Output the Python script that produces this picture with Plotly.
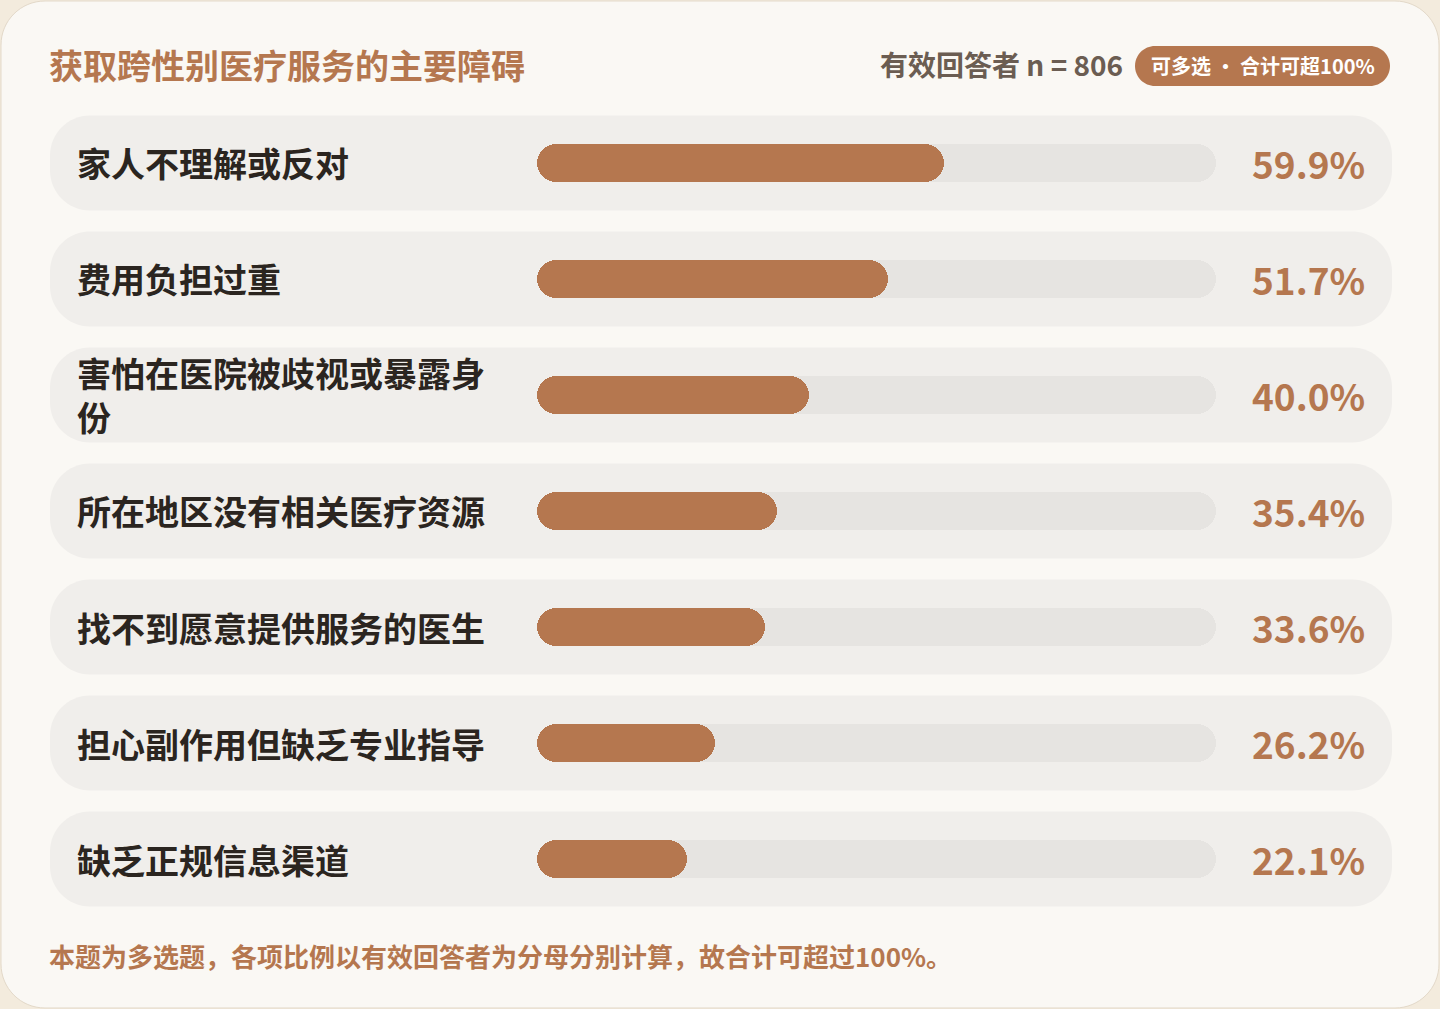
import plotly.graph_objects as go

# ---- data ----
categories = [
    "家人不理解或反对",
    "费用负担过重",
    "害怕在医院被歧视或暴露身份",
    "所在地区没有相关医疗资源",
    "找不到愿意提供服务的医生",
    "担心副作用但缺乏专业指导",
    "缺乏正规信息渠道",
]
display_labels = [
    "家人不理解或反对",
    "费用负担过重",
    "害怕在医院被歧视或暴露身<br>份",
    "所在地区没有相关医疗资源",
    "找不到愿意提供服务的医生",
    "担心副作用但缺乏专业指导",
    "缺乏正规信息渠道",
]
values = [59.9, 51.7, 40.0, 35.4, 33.6, 26.2, 22.1]
track_max = 100

title_text = "获取跨性别医疗服务的主要障碍"
n_text = "有效回答者 n = 806"
badge_text = "可多选 · 合计可超100%"
footer_text = "本题为多选题，各项比例以有效回答者为分母分别计算，故合计可超过100%。"

# ---- style ----
W, H = 1440, 1009
FONT = "Noto Sans CJK SC"
ACCENT = "#b5774f"
TRACK = "#e6e4e1"
ROW_BG = "#f0eeeb"
CARD = "#faf8f4"
OUTER = "#f3ebdd"
LABEL = "#2b2520"
SUB = "#6b5d52"


def px(x):
    return x / W


def py(y):
    return 1 - y / H


def rrect(x0, y0, x1, y1, r):
    k = 0.5523 * r
    pts = [
        f"M {px(x0 + r)} {py(y0)}",
        f"L {px(x1 - r)} {py(y0)}",
        f"C {px(x1 - r + k)} {py(y0)} {px(x1)} {py(y0 + r - k)} {px(x1)} {py(y0 + r)}",
        f"L {px(x1)} {py(y1 - r)}",
        f"C {px(x1)} {py(y1 - r + k)} {px(x1 - r + k)} {py(y1)} {px(x1 - r)} {py(y1)}",
        f"L {px(x0 + r)} {py(y1)}",
        f"C {px(x0 + r - k)} {py(y1)} {px(x0)} {py(y1 - r + k)} {px(x0)} {py(y1 - r)}",
        f"L {px(x0)} {py(y0 + r)}",
        f"C {px(x0)} {py(y0 + r - k)} {px(x0 + r - k)} {py(y0)} {px(x0 + r)} {py(y0)}",
        "Z",
    ]
    return " ".join(pts)


fig = go.Figure()

bar_w = 38 / 116
zero_base = [0] * len(categories)

# track (explicit base -> both ends rounded)
fig.add_trace(go.Bar(
    y=categories, x=[track_max] * len(categories), base=zero_base, orientation="h",
    marker=dict(color=TRACK, cornerradius=19, line=dict(width=0)),
    width=bar_w, hoverinfo="skip", showlegend=False,
))
# values
fig.add_trace(go.Bar(
    y=categories, x=values, base=zero_base, orientation="h",
    marker=dict(color=ACCENT, cornerradius=19, line=dict(width=0)),
    width=bar_w, showlegend=False,
    hovertemplate="%{y}: %{x:.1f}%<extra></extra>",
))

shapes = []
# card
shapes.append(dict(type="path", xref="paper", yref="paper",
                   path=rrect(1, 1, 1439, 1008, 44),
                   fillcolor=CARD, line=dict(color="#e3d9c9", width=1), layer="below"))
# rows
top, step = 105, 116
for i in range(len(categories)):
    c = top + step / 2 + step * i
    shapes.append(dict(type="path", xref="paper", yref="paper",
                       path=rrect(50, c - 47.5, 1392, c + 47.5, 40),
                       fillcolor=ROW_BG, line=dict(width=0), layer="below"))
# badge
shapes.append(dict(type="path", xref="paper", yref="paper",
                   path=rrect(1135, 46, 1390, 86, 20),
                   fillcolor=ACCENT, line=dict(width=0), layer="below"))

annotations = []
for cat, lab, v in zip(categories, display_labels, values):
    annotations.append(dict(
        x=px(75), xref="paper", y=cat, yref="y", text=lab, showarrow=False,
        xanchor="left", yanchor="middle", align="left",
        font=dict(family=FONT, size=34, color=LABEL, weight=700),
    ))
    annotations.append(dict(
        x=px(1367), xref="paper", y=cat, yref="y", text=f"{v:.1f}%", showarrow=False,
        xanchor="right", yanchor="middle", align="right",
        font=dict(family=FONT, size=37, color=ACCENT, weight=700),
    ))

annotations += [
    dict(x=px(47), y=py(64), xref="paper", yref="paper", text=title_text,
         showarrow=False, xanchor="left", yanchor="middle",
         font=dict(family=FONT, size=34, color=ACCENT, weight=700)),
    dict(x=px(1125), y=py(64), xref="paper", yref="paper", text=n_text,
         showarrow=False, xanchor="right", yanchor="middle",
         font=dict(family=FONT, size=28, color=SUB, weight=700)),
    dict(x=px(1263), y=py(65), xref="paper", yref="paper", text=badge_text,
         showarrow=False, xanchor="center", yanchor="middle",
         font=dict(family=FONT, size=20, color="white", weight=700)),
    dict(x=px(47), y=py(955), xref="paper", yref="paper", text=footer_text,
         showarrow=False, xanchor="left", yanchor="middle",
         font=dict(family=FONT, size=26, color=ACCENT, weight=700)),
]

fig.update_layout(
    width=W, height=H,
    margin=dict(l=0, r=0, t=0, b=0),
    paper_bgcolor=OUTER, plot_bgcolor="rgba(0,0,0,0)",
    barmode="overlay", bargap=0,
    shapes=shapes, annotations=annotations,
    xaxis=dict(domain=[px(537), px(1216)], range=[0, track_max], visible=False, fixedrange=True),
    yaxis=dict(domain=[py(top + step * len(categories)), py(top)], type="category",
               categoryorder="array", categoryarray=categories,
               range=[len(categories) - 0.5, -0.5], visible=False, fixedrange=True),
    font=dict(family=FONT),
)

fig.write_html(
    "out.html",
    config={"displayModeBar": False},
    post_script="document.body.style.margin='0px';document.body.style.overflow='hidden';",
)
